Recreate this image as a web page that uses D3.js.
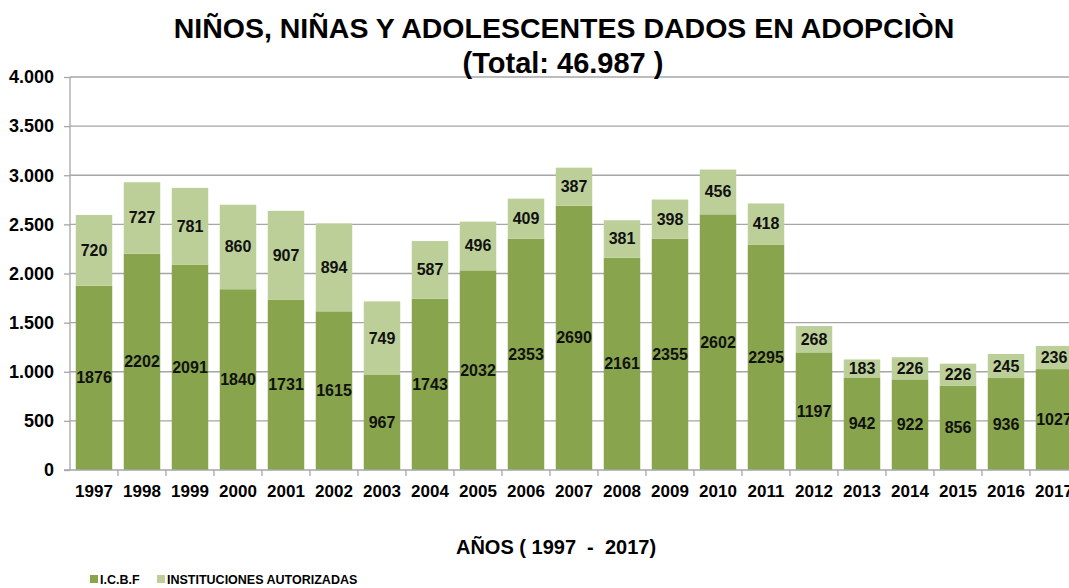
<!doctype html>
<html>
<head>
<meta charset="utf-8" />
<title>Niños, niñas y adolescentes dados en adopción</title>
<style>
  html,body{margin:0;background:#fff}
  svg{display:block;font-family:"Liberation Sans", Arial, sans-serif}
  .grid line{stroke:#a6a6a6;stroke-width:1.3}
  .axis path,.axis line{stroke:#a6a6a6;stroke-width:1.3}
  .axis text{font-weight:bold;fill:#000}
  .ya text{font-size:18px}
  .xa text{font-size:17px}
  .lbl{font-weight:bold;font-size:16px;fill:#111;text-anchor:middle;dominant-baseline:central}
</style>
</head>
<body>
<svg id="chart" width="1069" height="588"></svg>
<script src="https://cdn.jsdelivr.net/npm/d3@7"></script>
<script>
// ─── data ───
const years = ['1997','1998','1999','2000','2001','2002','2003','2004','2005','2006','2007',
               '2008','2009','2010','2011','2012','2013','2014','2015','2016','2017'];
const icbf  = [1876,2202,2091,1840,1731,1615,967,1743,2032,2353,2690,
               2161,2355,2602,2295,1197,942,922,856,936,1027];
const inst  = [720,727,781,860,907,894,749,587,496,409,387,
               381,398,456,418,268,183,226,226,245,236];
const yTicks = [0,500,1000,1500,2000,2500,3000,3500,4000];
const seriesNames = ['I.C.B.F','INSTITUCIONES AUTORIZADAS'];
const colors = ['#88a44c','#bccf98'];

const svg = d3.select('#chart');
const left = 70, zeroY = 470, topY = 77;

const x = d3.scaleBand().domain(years).range([left, left + 48*years.length])
  .paddingInner(0.24).paddingOuter(0.12);
const y = d3.scaleLinear().domain([0,4000]).range([zeroY, topY]);

// gridlines
svg.append('g').attr('class','grid')
  .selectAll('line').data(yTicks.slice(1)).join('line')
  .attr('x1', left).attr('x2', 1069)
  .attr('y1', d => y(d)).attr('y2', d => y(d));

// stacked bars
const rows = years.map((yr,i) => ({year:yr, a:icbf[i], b:inst[i]}));
const g = svg.append('g');
g.selectAll('rect.a').data(rows).join('rect')
  .attr('x', d => x(d.year)).attr('width', x.bandwidth())
  .attr('y', d => y(d.a)).attr('height', d => y(0) - y(d.a))
  .attr('fill', colors[0]);
g.selectAll('rect.b').data(rows).join('rect')
  .attr('x', d => x(d.year)).attr('width', x.bandwidth())
  .attr('y', d => y(d.a + d.b)).attr('height', d => y(d.a) - y(d.a + d.b))
  .attr('fill', colors[1]);

// value labels
g.selectAll('text.la').data(rows).join('text').attr('class','lbl')
  .attr('x', d => x(d.year) + x.bandwidth()/2)
  .attr('y', d => y(d.a/2))
  .text(d => d.a);
g.selectAll('text.lb').data(rows).join('text').attr('class','lbl')
  .attr('x', d => x(d.year) + x.bandwidth()/2)
  .attr('y', d => y(d.a + d.b/2))
  .text(d => d.b);

// y axis
const fmt = d3.formatLocale({decimal:',', thousands:'.', grouping:[3], currency:['','']}).format(',');
const yAxis = svg.append('g').attr('class','axis ya').attr('transform',`translate(${left},0)`)
  .call(d3.axisLeft(y).tickValues(yTicks).tickSize(6).tickPadding(10).tickFormat(fmt));
yAxis.select('.domain').attr('d', `M0,${zeroY}V${topY}`);

// x axis
const xAxis = svg.append('g').attr('class','axis xa').attr('transform',`translate(0,${zeroY})`)
  .call(d3.axisBottom(x).tickSize(0).tickPadding(15));
xAxis.select('.domain').attr('d', `M${left-6},0H1069`);
xAxis.selectAll('.sep').data(years).join('line').attr('class','sep')
  .attr('x1', (d,i) => left + 48*(i+1)).attr('x2', (d,i) => left + 48*(i+1))
  .attr('y1', 0).attr('y2', 6);

// titles
svg.append('text').attr('x', 564).attr('y', 38).attr('text-anchor','middle')
  .attr('font-weight','bold').attr('font-size', 28.5)
  .text('NIÑOS, NIÑAS Y ADOLESCENTES DADOS EN ADOPCIÒN');
svg.append('text').attr('x', 563).attr('y', 73).attr('text-anchor','middle')
  .attr('font-weight','bold').attr('font-size', 29)
  .text('(Total: 46.987 )');
svg.append('text').attr('x', 556).attr('y', 554).attr('text-anchor','middle')
  .attr('font-weight','bold').attr('font-size', 20)
  .style('white-space','pre')
  .text('AÑOS ( 1997  -  2017)');

// legend
const lg = svg.append('g').attr('transform','translate(90,584)');
const lx = [0, 67];
seriesNames.forEach((n,i) => {
  lg.append('rect').attr('x', lx[i]).attr('y', -9).attr('width', 8).attr('height', 8).attr('fill', colors[i]);
  lg.append('text').attr('x', lx[i] + 10).attr('y', 0)
    .attr('font-weight','bold').attr('font-size', 12.5).text(n);
});
</script>
</body>
</html>
